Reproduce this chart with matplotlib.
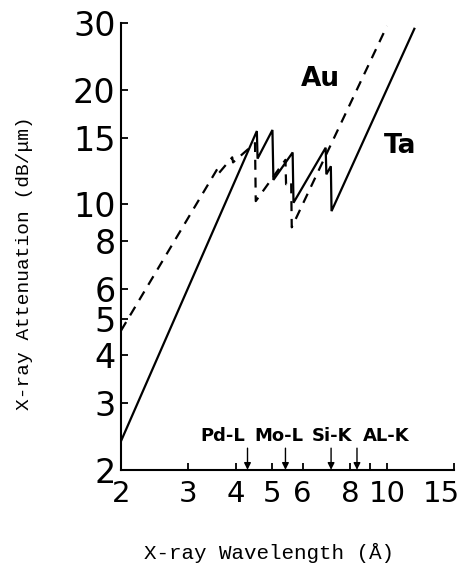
import matplotlib
matplotlib.use("Agg")
import matplotlib.pyplot as plt
from matplotlib.ticker import FixedLocator, NullLocator
from matplotlib.transforms import ScaledTranslation

# Ta (solid): M-edge sawtooth
ta_wavelength = [2.0, 4.55, 4.57, 5.00, 5.03, 5.65, 5.68, 6.90, 6.93, 7.12, 7.15, 11.8]
ta_atten = [2.38, 15.6, 13.2, 15.7, 11.6, 13.7, 10.1, 14.1, 12.0, 12.6, 9.6, 29.0]

# Au (dashed)
au_wavelength = [2.0, 3.60, 3.62, 3.92, 3.94, 4.50, 4.52, 5.41, 5.43, 5.60, 5.62, 10.0]
au_atten = [4.65, 12.5, 12.1, 13.3, 12.9, 14.5, 10.2, 13.1, 11.3, 11.5, 8.7, 29.5]

# characteristic lines marked with arrows
line_names = ["Pd-L", "Mo-L", "Si-K", "AL-K"]
line_wavelength = [4.30, 5.41, 7.13, 8.34]
label_x = [3.71, 5.21, 7.16, 9.95]

x_ticks = [2, 3, 4, 5, 6, 8, 9, 10, 15]
x_ticklabels = ["2", "3", "4", "5", "6", "8", "", "10", "15"]
y_ticks = [2, 3, 4, 5, 6, 8, 10, 15, 20, 30]

fig = plt.figure(figsize=(4.69, 5.66), dpi=100)
ax = fig.add_axes([0.258, 0.170, 0.710, 0.789])

ax.plot(ta_wavelength, ta_atten, color="black", lw=1.6, solid_joinstyle="miter")
ax.plot(au_wavelength, au_atten, color="black", lw=1.6, dashes=(4.5, 3.5))

ax.set_xscale("log")
ax.set_yscale("log")
ax.set_xlim(2, 15)
ax.set_ylim(2, 30)

ax.xaxis.set_major_locator(FixedLocator(x_ticks))
ax.xaxis.set_minor_locator(NullLocator())
ax.set_xticklabels(x_ticklabels)
ax.yaxis.set_major_locator(FixedLocator(y_ticks))
ax.yaxis.set_minor_locator(NullLocator())
ax.set_yticklabels([str(t) for t in y_ticks])

for s in ["top", "right"]:
    ax.spines[s].set_visible(False)
for s in ["left", "bottom"]:
    ax.spines[s].set_linewidth(1.5)

ax.tick_params(axis="x", direction="in", length=5, width=1.3, labelsize=21, pad=7)
ax.tick_params(axis="y", direction="in", length=5, width=1.3, labelsize=24, pad=4)

# the last x label would run off the edge; nudge it left a little
last = ax.get_xticklabels()[-1]
last.set_transform(last.get_transform() + ScaledTranslation(-9 / 72, 0, fig.dpi_scale_trans))

for name, wl, lx in zip(line_names, line_wavelength, label_x):
    ax.annotate("", xy=(wl, 2.0), xytext=(wl, 2.28),
                arrowprops=dict(arrowstyle="-|>", color="black", lw=1.0,
                                mutation_scale=10, shrinkA=0, shrinkB=0))
    ax.text(lx, 2.46, name, ha="center", va="center", fontsize=13,
            fontweight="bold")

ax.text(320 / 469, 1 - 79 / 566, "Au", transform=fig.transFigure,
        ha="center", va="center", fontsize=19, fontweight="bold")
ax.text(400 / 469, 1 - 146 / 566, "Ta", transform=fig.transFigure,
        ha="center", va="center", fontsize=19, fontweight="bold")

fig.text(25 / 469, 1 - 263 / 566, "X-ray Attenuation (dB/\u03bcm)",
         rotation=90, ha="center", va="center", fontsize=14,
         family="Liberation Mono")
fig.text(269 / 469, 1 - 553 / 566, "X-ray Wavelength (\u00c5)",
         ha="center", va="center", fontsize=15, family="Liberation Mono")

fig.savefig("out.png", dpi=100)
